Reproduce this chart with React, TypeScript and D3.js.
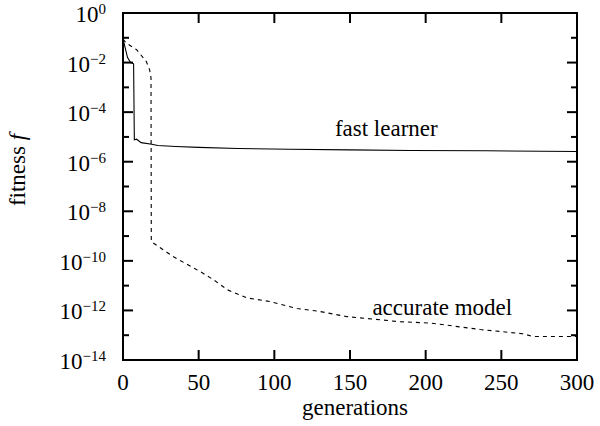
import React from 'react';
import * as d3 from 'd3';

// generations vs fitness
const fastGen = [0, 1, 3, 5, 7, 7.5, 9, 12, 19, 23, 35, 50, 76, 110, 150, 190, 240, 300];
const fastFit = [9.1e-2, 5.0e-2, 1.6e-2, 1.0e-2, 8.9e-3, 7.6e-6, 8.1e-6, 5.9e-6, 5.1e-6, 4.5e-6, 4.1e-6, 3.8e-6, 3.4e-6, 3.2e-6, 3.0e-6, 2.85e-6, 2.75e-6, 2.6e-6];

const accGen = [0, 2, 9, 15.4, 17.6, 18.5, 18.7, 33, 51, 60, 69, 82, 97, 115, 130, 148, 170, 183, 203, 236, 264, 271, 300];
const accFit = [8.9e-2, 6.2e-2, 3.3e-2, 1.1e-2, 5.1e-3, 2.5e-3, 6.0e-10, 1.5e-10, 3.7e-11, 1.7e-11, 6.8e-12, 3.2e-12, 2.3e-12, 1.2e-12, 9.1e-13, 5.6e-13, 4.2e-13, 3.5e-13, 3.1e-13, 1.7e-13, 1.15e-13, 8.9e-14, 8.9e-14];

const xTicks = [0, 50, 100, 150, 200, 250, 300];
const yExps = [0, -1, -2, -3, -4, -5, -6, -7, -8, -9, -10, -11, -12, -13, -14];
const yLabelExps = [0, -2, -4, -6, -8, -10, -12, -14];

const font = '"Liberation Serif", serif';

const App = () => {
  const width = 600;
  const height = 426;
  const margin = { top: 13, right: 23, bottom: 66, left: 123 };
  const innerW = width - margin.left - margin.right;
  const innerH = height - margin.top - margin.bottom;

  const x = d3.scaleLinear().domain([0, 300]).range([0, innerW]);
  const y = d3.scaleLog().domain([1e-14, 1]).range([innerH, 0]);

  const line = d3.line<[number, number]>()
    .x(d => x(d[0]))
    .y(d => y(d[1]));

  const fast = fastGen.map((g, i) => [g, fastFit[i]] as [number, number]);
  const acc = accGen.map((g, i) => [g, accFit[i]] as [number, number]);

  return (
    <svg width={width} height={height} style={{ position: 'absolute', left: 0, top: 0, background: '#fff' }}>
      <g transform={`translate(${margin.left},${margin.top})`} fontFamily={font}>
        {/* curves */}
        <path d={line(fast) || ''} fill="none" stroke="#000" strokeWidth={1.1} />
        <path d={line(acc) || ''} fill="none" stroke="#000" strokeWidth={1.1} strokeDasharray="4,4" />

        {/* y ticks, left and right */}
        {yExps.map(e => {
          const len = e % 2 === 0 ? 10 : 6;
          const yy = y(Math.pow(10, e));
          return (
            <g key={'y' + e}>
              <line x1={0} x2={len} y1={yy} y2={yy} stroke="#000" strokeWidth={2} />
              <line x1={innerW - len} x2={innerW} y1={yy} y2={yy} stroke="#000" strokeWidth={2} />
            </g>
          );
        })}
        {/* x ticks, bottom and top */}
        {xTicks.map(t => (
          <g key={'x' + t}>
            <line x1={x(t)} x2={x(t)} y1={innerH} y2={innerH - 10} stroke="#000" strokeWidth={2} />
            <line x1={x(t)} x2={x(t)} y1={0} y2={10} stroke="#000" strokeWidth={2} />
            <text x={x(t)} y={innerH + 30} textAnchor="middle" fontSize={23}>{t}</text>
          </g>
        ))}
        {yLabelExps.map(e => (
          <text key={'yl' + e} x={-17} y={y(Math.pow(10, e)) + 9} textAnchor="end" fontSize={23}>
            10<tspan dy={-8} fontSize={15}>{e === 0 ? '0' : '\u2212' + Math.abs(e)}</tspan>
          </text>
        ))}

        {/* frame */}
        <rect x={0} y={0} width={innerW} height={innerH} fill="none" stroke="#000" strokeWidth={2} />

        {/* annotations */}
        <text x={x(174)} y={123} textAnchor="middle" fontSize={23}>fast learner</text>
        <text x={x(211)} y={302} textAnchor="middle" fontSize={23}>accurate model</text>

        <text x={innerW / 2 + 5} y={innerH + 55} textAnchor="middle" fontSize={23}>generations</text>
        <text transform={`translate(${25 - margin.left},${170 - margin.top}) rotate(-90)`} textAnchor="middle" fontSize={23}>
          fitness <tspan fontStyle="italic">f</tspan>
        </text>
      </g>
    </svg>
  );
};

export default App;
